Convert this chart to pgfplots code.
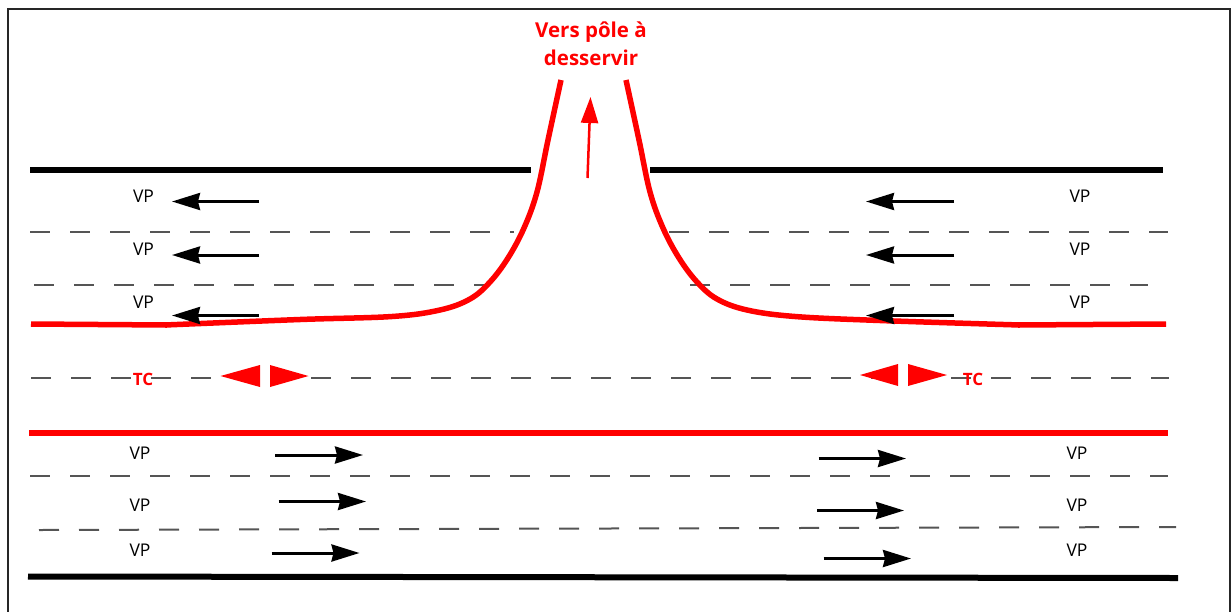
\documentclass[border=0pt]{standalone}
\usepackage{fontspec}
\setmainfont{Open Sans}
\usepackage{pgfplots}
\pgfplotsset{compat=1.18}
\usetikzlibrary{arrows.meta}
\definecolor{dashgray}{RGB}{85,85,85}
\begin{document}
\begin{tikzpicture}
\useasboundingbox (0,0) rectangle (1231pt,611pt);
\begin{axis}[at={(0,0)},anchor=south west,
  scale only axis, width=1231pt, height=611pt,
  xmin=0, xmax=1231, ymin=0, ymax=611, y dir=reverse,
  hide axis, clip=false]
% frame
\addplot[black!85, line width=2pt] coordinates {(8,620) (8,8.5) (1229.5,8.5) (1229.5,620)};
% dashed lane lines
\addplot[dashgray, line width=2pt, dash pattern=on 20pt off 20pt] coordinates {(30,232) (514,232)};
\addplot[dashgray, line width=2pt, dash pattern=on 20pt off 20pt] coordinates {(669,232) (1168,232)};
\addplot[dashgray, line width=2pt, dash pattern=on 20pt off 20pt] coordinates {(34,285) (487,285)};
\addplot[dashgray, line width=2pt, dash pattern=on 20pt off 20pt] coordinates {(690,285) (1148,285)};
\addplot[dashgray, line width=2pt, dash pattern=on 20pt off 20pt] coordinates {(31,378) (1169,378)};
\addplot[dashgray, line width=2pt, dash pattern=on 20pt off 20pt] coordinates {(30,476) (1168,476)};
\addplot[dashgray, line width=2pt, dash pattern=on 20pt off 20pt] coordinates {(39,530) (1176,527)};
% black edges
\addplot[black, line width=6pt] coordinates {(30,169.5) (531,169.5)};
\addplot[black, line width=6pt] coordinates {(650,169.5) (1163,169.5)};
\addplot[black, line width=6pt] coordinates {(28,576.5) (1178,578)};
% red separator
\addplot[red, line width=6pt] coordinates {(29,432.5) (1168,432.5)};
% red curve, left arm
\addplot[red, line width=5.5pt, smooth, tension=0.6] coordinates {
(561,80) (548,140) (537,192) (524,228) (508,258) (490,282) (470,299)
(440,310) (392,316.5) (300,319.5) (165,325)};
\addplot[red, line width=5.5pt] coordinates {(167,325) (31,324)};
% red curve, right arm
\addplot[red, line width=5.5pt, smooth, tension=0.6] coordinates {
(626,80) (639,140) (650,192) (663,228) (679,258) (697,282) (717,299)
(747,310) (795,316.5) (880,320.5) (1020,325)};
\addplot[red, line width=5.5pt] coordinates {(1018,325) (1166,324)};
% red arrow up
\addplot[red, line width=2.5pt, -{Triangle[length=26pt,width=17pt]}] coordinates {(587.5,178) (590.5,97)};
% black arrows, upper lanes (to the left)
\addplot[black, line width=3pt, -{Stealth[length=28pt,width=17pt,inset=2pt]}] coordinates {(259,201.5) (172,201.5)};
\addplot[black, line width=3pt, -{Stealth[length=28pt,width=17pt,inset=2pt]}] coordinates {(259,255) (172,255)};
\addplot[black, line width=3pt, -{Stealth[length=28pt,width=17pt,inset=2pt]}] coordinates {(259,315.5) (172,315.5)};
\addplot[black, line width=3pt, -{Stealth[length=28pt,width=17pt,inset=2pt]}] coordinates {(954,201.5) (866,201.5)};
\addplot[black, line width=3pt, -{Stealth[length=28pt,width=17pt,inset=2pt]}] coordinates {(954,255) (866,255)};
\addplot[black, line width=3pt, -{Stealth[length=28pt,width=17pt,inset=2pt]}] coordinates {(954,315.5) (866,315.5)};
% black arrows, lower lanes (to the right)
\addplot[black, line width=3pt, -{Stealth[length=28pt,width=17pt,inset=2pt]}] coordinates {(275,455) (363,455)};
\addplot[black, line width=3pt, -{Stealth[length=28pt,width=17pt,inset=2pt]}] coordinates {(278.5,501.5) (366,501.5)};
\addplot[black, line width=3pt, -{Stealth[length=28pt,width=17pt,inset=2pt]}] coordinates {(271.5,553) (359.5,553)};
\addplot[black, line width=3pt, -{Stealth[length=28pt,width=17pt,inset=2pt]}] coordinates {(818.5,458.5) (906,458.5)};
\addplot[black, line width=3pt, -{Stealth[length=28pt,width=17pt,inset=2pt]}] coordinates {(817,510.5) (904,510.5)};
\addplot[black, line width=3pt, -{Stealth[length=28pt,width=17pt,inset=2pt]}] coordinates {(823.5,558.5) (911,558.5)};
% red TC triangles
\addplot[fill=red, draw=none] coordinates {(220.5,376) (260,365) (260,387)};
\addplot[fill=red, draw=none] coordinates {(308.5,376) (270,365) (270,387)};
\addplot[fill=red, draw=none] coordinates {(860,375) (898,364) (898,386)};
\addplot[fill=red, draw=none] coordinates {(947,375) (908,364) (908,386)};
% labels
\node[text=red, font=\fontsize{20.5}{28}\selectfont\bfseries, align=center] at (axis cs:591,44) {Vers pôle à\\desservir};
\node[text=red, font=\fontsize{17}{18}\selectfont\bfseries, inner sep=1pt] at (axis cs:143,379) {TC};
\node[text=red, font=\fontsize{17}{18}\selectfont\bfseries, inner sep=1pt] at (axis cs:973,379) {TC};
\node[font=\fontsize{17.5}{20}\selectfont] at (axis cs:143.5,196) {VP};
\node[font=\fontsize{17.5}{20}\selectfont] at (axis cs:143.5,249) {VP};
\node[font=\fontsize{17.5}{20}\selectfont] at (axis cs:143.5,302) {VP};
\node[font=\fontsize{17.5}{20}\selectfont] at (axis cs:1080,196) {VP};
\node[font=\fontsize{17.5}{20}\selectfont] at (axis cs:1080,249) {VP};
\node[font=\fontsize{17.5}{20}\selectfont] at (axis cs:1080,302) {VP};
\node[font=\fontsize{17.5}{20}\selectfont] at (axis cs:140,453) {VP};
\node[font=\fontsize{17.5}{20}\selectfont] at (axis cs:140,505.5) {VP};
\node[font=\fontsize{17.5}{20}\selectfont] at (axis cs:140,550) {VP};
\node[font=\fontsize{17.5}{20}\selectfont] at (axis cs:1077,453) {VP};
\node[font=\fontsize{17.5}{20}\selectfont] at (axis cs:1077,505.5) {VP};
\node[font=\fontsize{17.5}{20}\selectfont] at (axis cs:1077,550) {VP};
\end{axis}
\end{tikzpicture}
\end{document}
